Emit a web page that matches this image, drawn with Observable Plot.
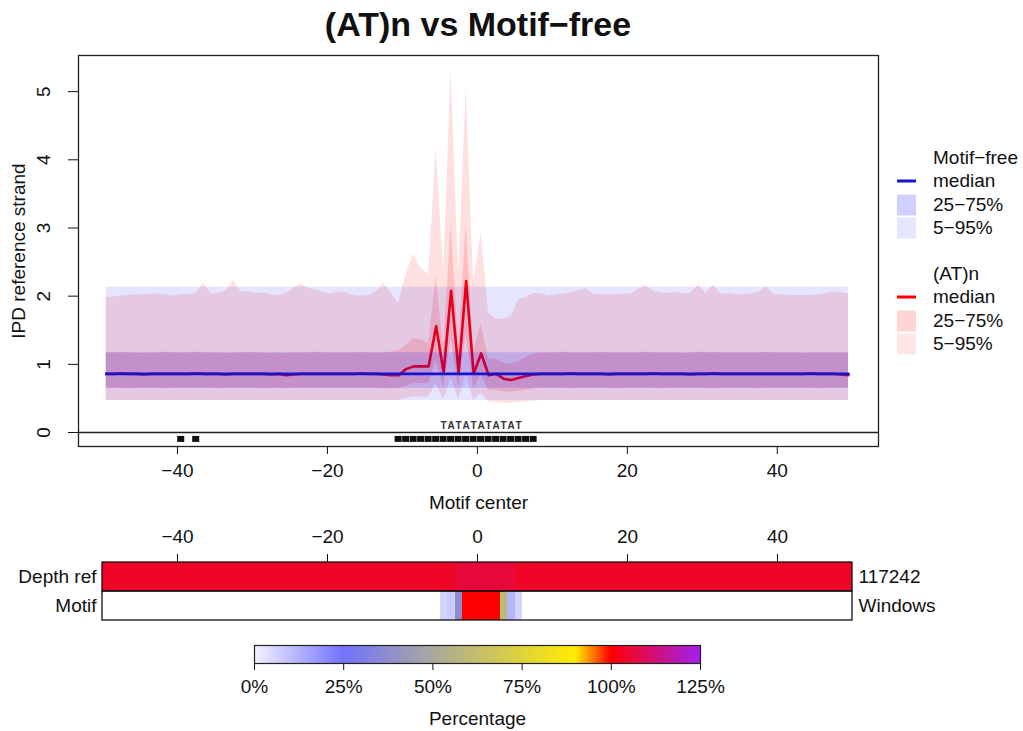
<!DOCTYPE html>
<html>
<head>
<meta charset="utf-8">
<script src="https://cdn.jsdelivr.net/npm/d3@7"></script>
<script src="https://cdn.jsdelivr.net/npm/@observablehq/plot@0.6"></script>
<style>
  html, body { margin: 0; padding: 0; background: #fff; }
  #page { position: relative; width: 1023px; height: 731px; background: #fff; overflow: hidden;
          font-family: "Liberation Sans", Arial, Helvetica, sans-serif; color: #111; }
  #page > svg { position: absolute; left: 0; }
  .title { position: absolute; left: 0; top: 5px; width: 956px; text-align: center;
           font-size: 34px; font-weight: bold; line-height: 38px; }
  .lg-text { position: absolute; left: 933px; font-size: 19px; line-height: 22px; transform: translateY(-50%); white-space: nowrap; }
  .lg-line { position: absolute; left: 897px; width: 19px; height: 3px; transform: translateY(-50%); }
  .lg-box { position: absolute; left: 897px; width: 19px; height: 21px; transform: translateY(-50%); }
</style>
</head>
<body>
<div id="page">
  <div class="title">(AT)n vs Motif−free</div>
</div>
<script>
// Window positions relative to the motif center (one value per base)
const positions = d3.range(-49.5, 50, 1);

// Motif-free windows: IPD quantiles per position
const freeMedian = [
  0.86,0.86,0.86,0.86,0.86,0.86,0.86,0.86,0.86,0.86, 0.86,0.86,0.86,0.86,0.86,0.86,0.86,0.86,0.86,0.86,
  0.86,0.86,0.86,0.86,0.86,0.86,0.86,0.86,0.86,0.86, 0.86,0.86,0.86,0.86,0.86,0.86,0.86,0.86,0.86,0.86,
  0.86,0.86,0.86,0.86,0.86,0.86,0.86,0.86,0.86,0.86, 0.86,0.86,0.86,0.86,0.86,0.86,0.86,0.86,0.86,0.86,
  0.86,0.86,0.86,0.86,0.86,0.86,0.86,0.86,0.86,0.86, 0.86,0.86,0.86,0.86,0.86,0.86,0.86,0.86,0.86,0.86,
  0.86,0.86,0.86,0.86,0.86,0.86,0.86,0.86,0.86,0.86, 0.86,0.86,0.86,0.86,0.86,0.86,0.86,0.86,0.86,0.86
];
const freeQ25 = [
  0.65,0.65,0.65,0.65,0.65,0.65,0.65,0.65,0.65,0.65, 0.65,0.65,0.65,0.65,0.65,0.65,0.65,0.65,0.65,0.65,
  0.65,0.65,0.65,0.65,0.65,0.65,0.65,0.65,0.65,0.65, 0.65,0.65,0.65,0.65,0.65,0.65,0.65,0.65,0.65,0.65,
  0.65,0.65,0.65,0.65,0.65,0.65,0.65,0.65,0.65,0.65, 0.65,0.65,0.65,0.65,0.65,0.65,0.65,0.65,0.65,0.65,
  0.65,0.65,0.65,0.65,0.65,0.65,0.65,0.65,0.65,0.65, 0.65,0.65,0.65,0.65,0.65,0.65,0.65,0.65,0.65,0.65,
  0.65,0.65,0.65,0.65,0.65,0.65,0.65,0.65,0.65,0.65, 0.65,0.65,0.65,0.65,0.65,0.65,0.65,0.65,0.65,0.65
];
const freeQ75 = [
  1.17,1.17,1.17,1.17,1.17,1.17,1.17,1.17,1.17,1.17, 1.17,1.17,1.17,1.17,1.17,1.17,1.17,1.17,1.17,1.17,
  1.17,1.17,1.17,1.17,1.17,1.17,1.17,1.17,1.17,1.17, 1.17,1.17,1.17,1.17,1.17,1.17,1.17,1.17,1.17,1.17,
  1.17,1.17,1.17,1.17,1.17,1.17,1.17,1.17,1.17,1.17, 1.17,1.17,1.17,1.17,1.17,1.17,1.17,1.17,1.17,1.17,
  1.17,1.17,1.17,1.17,1.17,1.17,1.17,1.17,1.17,1.17, 1.17,1.17,1.17,1.17,1.17,1.17,1.17,1.17,1.17,1.17,
  1.17,1.17,1.17,1.17,1.17,1.17,1.17,1.17,1.17,1.17, 1.17,1.17,1.17,1.17,1.17,1.17,1.17,1.17,1.17,1.17
];
const freeQ05 = [
  0.47,0.47,0.47,0.47,0.47,0.47,0.47,0.47,0.47,0.47, 0.47,0.47,0.47,0.47,0.47,0.47,0.47,0.47,0.47,0.47,
  0.47,0.47,0.47,0.47,0.47,0.47,0.47,0.47,0.47,0.47, 0.47,0.47,0.47,0.47,0.47,0.47,0.47,0.47,0.47,0.47,
  0.47,0.47,0.47,0.47,0.47,0.47,0.47,0.47,0.47,0.47, 0.47,0.47,0.47,0.47,0.47,0.47,0.47,0.47,0.47,0.47,
  0.47,0.47,0.47,0.47,0.47,0.47,0.47,0.47,0.47,0.47, 0.47,0.47,0.47,0.47,0.47,0.47,0.47,0.47,0.47,0.47,
  0.47,0.47,0.47,0.47,0.47,0.47,0.47,0.47,0.47,0.47, 0.47,0.47,0.47,0.47,0.47,0.47,0.47,0.47,0.47,0.47
];
const freeQ95 = [
  2.13,2.13,2.13,2.13,2.13,2.13,2.13,2.13,2.13,2.13, 2.13,2.13,2.13,2.13,2.13,2.13,2.13,2.13,2.13,2.13,
  2.13,2.13,2.13,2.13,2.13,2.13,2.13,2.13,2.13,2.13, 2.13,2.13,2.13,2.13,2.13,2.13,2.13,2.13,2.13,2.13,
  2.13,2.13,2.13,2.13,2.13,2.13,2.13,2.13,2.13,2.13, 2.13,2.13,2.13,2.13,2.13,2.13,2.13,2.13,2.13,2.13,
  2.13,2.13,2.13,2.13,2.13,2.13,2.13,2.13,2.13,2.13, 2.13,2.13,2.13,2.13,2.13,2.13,2.13,2.13,2.13,2.13,
  2.13,2.13,2.13,2.13,2.13,2.13,2.13,2.13,2.13,2.13, 2.13,2.13,2.13,2.13,2.13,2.13,2.13,2.13,2.13,2.13
];

// (AT)n windows: IPD quantiles per position
const atMedian = [
  0.86,0.86,0.87,0.86,0.86,0.85,0.86,0.86,0.86,0.86,
  0.86,0.86,0.87,0.86,0.86,0.86,0.85,0.86,0.86,0.86,
  0.86,0.86,0.85,0.86,0.84,0.85,0.86,0.86,0.86,0.86,
  0.86,0.86,0.86,0.86,0.87,0.86,0.86,0.85,0.84,0.84,
  0.93,0.97,0.97,0.97,1.56,0.88,2.08,0.88,2.22,0.86,
  1.16,0.84,0.86,0.79,0.77,0.80,0.83,0.85,0.86,0.86,
  0.86,0.86,0.87,0.86,0.86,0.86,0.86,0.85,0.86,0.86,
  0.86,0.86,0.86,0.87,0.86,0.86,0.86,0.86,0.85,0.86,
  0.86,0.87,0.86,0.86,0.86,0.86,0.86,0.86,0.86,0.86,
  0.86,0.86,0.86,0.86,0.87,0.86,0.86,0.86,0.85,0.84
];
const atQ25 = [
  0.65,0.65,0.65,0.64,0.65,0.65,0.65,0.65,0.64,0.65,
  0.65,0.65,0.65,0.65,0.65,0.64,0.65,0.65,0.65,0.65,
  0.65,0.64,0.65,0.65,0.64,0.65,0.65,0.65,0.65,0.65,
  0.65,0.65,0.65,0.65,0.65,0.65,0.65,0.64,0.64,0.64,
  0.68,0.72,0.72,0.72,1.05,0.66,1.35,0.66,1.45,0.64,
  0.85,0.62,0.62,0.60,0.59,0.60,0.62,0.64,0.65,0.65,
  0.65,0.65,0.64,0.65,0.65,0.65,0.65,0.65,0.64,0.65,
  0.65,0.65,0.65,0.65,0.64,0.65,0.65,0.65,0.65,0.65,
  0.65,0.64,0.65,0.65,0.65,0.65,0.65,0.64,0.65,0.65,
  0.65,0.65,0.65,0.65,0.65,0.64,0.65,0.65,0.65,0.65
];
const atQ75 = [
  1.17,1.17,1.18,1.17,1.17,1.16,1.17,1.17,1.18,1.17,
  1.17,1.17,1.18,1.17,1.17,1.17,1.16,1.17,1.17,1.18,
  1.17,1.17,1.16,1.17,1.16,1.17,1.17,1.17,1.18,1.17,
  1.17,1.17,1.17,1.17,1.18,1.17,1.17,1.17,1.18,1.20,
  1.28,1.38,1.36,1.30,2.30,1.22,3.06,1.22,3.06,1.18,
  1.60,1.08,1.08,1.02,1.00,1.04,1.10,1.15,1.17,1.17,
  1.17,1.18,1.17,1.17,1.17,1.17,1.18,1.17,1.17,1.17,
  1.17,1.17,1.18,1.17,1.17,1.17,1.17,1.16,1.17,1.18,
  1.17,1.18,1.17,1.17,1.17,1.17,1.17,1.17,1.18,1.17,
  1.17,1.17,1.17,1.16,1.17,1.17,1.17,1.17,1.17,1.17
];
const atQ05 = [
  0.47,0.47,0.47,0.47,0.47,0.47,0.47,0.47,0.47,0.47,
  0.47,0.47,0.47,0.47,0.47,0.47,0.47,0.47,0.47,0.47,
  0.47,0.47,0.47,0.47,0.47,0.47,0.47,0.47,0.47,0.47,
  0.47,0.47,0.47,0.47,0.47,0.47,0.47,0.47,0.47,0.47,
  0.50,0.52,0.52,0.52,0.72,0.48,0.80,0.48,0.85,0.47,
  0.58,0.45,0.44,0.43,0.43,0.44,0.45,0.46,0.47,0.47,
  0.47,0.47,0.47,0.47,0.47,0.47,0.47,0.47,0.47,0.47,
  0.47,0.47,0.47,0.47,0.47,0.47,0.47,0.47,0.47,0.47,
  0.47,0.47,0.47,0.47,0.47,0.47,0.47,0.47,0.47,0.47,
  0.47,0.47,0.47,0.47,0.47,0.47,0.47,0.47,0.47,0.47
];
const atQ95 = [
  1.98,1.99,2.00,2.01,2.02,2.02,2.03,2.03,2.02,2.00,
  2.02,2.02,2.05,2.19,2.03,2.04,2.08,2.23,2.06,2.07,
  2.04,2.05,2.02,2.01,2.04,2.12,2.18,2.12,2.09,2.05,
  2.03,2.06,2.05,2.01,2.00,2.01,2.06,2.19,2.05,1.89,
  2.33,2.62,2.40,2.32,4.16,2.35,5.31,2.30,5.06,2.20,
  2.94,1.75,1.67,1.66,1.70,1.95,1.98,2.04,2.04,2.00,
  2.02,2.03,2.05,2.08,2.11,2.03,2.02,2.02,2.02,2.03,
  2.03,2.10,2.16,2.07,2.05,2.04,2.06,2.03,2.05,2.17,
  2.04,2.17,2.03,2.04,2.02,2.02,2.03,2.06,2.14,2.03,
  2.02,2.01,2.01,2.01,2.01,2.02,2.04,2.06,2.05,2.03
];

// Positions marked along the bottom strip and the motif sequence above it
const markedPositions = [-39.5, -37.5, -10.5, -9.5, -8.5, -7.5, -6.5, -5.5, -4.5, -3.5, -2.5, -1.5,
                         -0.5, 0.5, 1.5, 2.5, 3.5, 4.5, 5.5, 6.5, 7.5];
const motifLetters = ["T","A","T","A","T","A","T","A","T","A","T"];
const motifLetterPos = [-4.5, -3.5, -2.5, -1.5, -0.5, 0.5, 1.5, 2.5, 3.5, 4.5, 5.5];

// Heatmap rows (percent per position)
const heatRows = ["Depth ref", "Motif"];
const heatRowNotes = ["117242", "Windows"];
const depthPct = [
  104,104,104,104,104,104,104,104,104,104, 104,104,104,104,104,104,104,104,104,104,
  104,104,104,104,104,104,104,104,104,104, 104,104,104,104,104,104,104,104,104,104,
  104,104,104,104,104,104,104,106,106,106, 106,106,106,106,106,104,104,104,104,104,
  104,104,104,104,104,104,104,104,104,104, 104,104,104,104,104,104,104,104,104,104,
  104,104,104,104,104,104,104,104,104,104, 104,104,104,104,104,104,104,104,104,104
];
const motifPct = [
  0,0,0,0,0,0,0,0,0,0, 0,0,0,0,0,0,0,0,0,0,
  0,0,0,0,0,0,0,0,0,0, 0,0,0,0,0,0,0,0,0,0,
  0,0,0,0,0,6,8,38,100,100, 100,100,100,60,12,6,0,0,0,0,
  0,0,0,0,0,0,0,0,0,0, 0,0,0,0,0,0,0,0,0,0,
  0,0,0,0,0,0,0,0,0,0, 0,0,0,0,0,0,0,0,0,0
];

// Colour ramp and tick labels
const rampStops = [0, 25, 50, 90, 100, 125];
const rampColors = ["#f3f3ff", "#7272ff", "#aaa89e", "#ffec00", "#ff0000", "#a020f0"];
const rampTicks = [0, 25, 50, 75, 100, 125];
const xTicks = [-40, -20, 0, 20, 40];
const yTicks = [0, 1, 2, 3, 4, 5];

// Colours
const FREE = "#0000ff", AT = "#ff0000";
const FREE_LINE = "#1414d2", AT_LINE = "#ff0000";
const FREE_OUT = 0.1, FREE_IN = 0.15, AT_OUT = 0.12, AT_IN = 0.15;

const fmtSigned = d => d < 0 ? "\u2212" + Math.abs(d) : String(d);
const font = "'Liberation Sans', Arial, Helvetica, sans-serif";

const rows = positions.map((x, i) => ({
  x,
  freeMedian: freeMedian[i], freeQ25: freeQ25[i], freeQ75: freeQ75[i], freeQ05: freeQ05[i], freeQ95: freeQ95[i],
  atMedian: atMedian[i], atQ25: atQ25[i], atQ75: atQ75[i], atQ05: atQ05[i], atQ95: atQ95[i]
}));

const page = document.getElementById("page");

// Main IPD profile
const main = Plot.plot({
  width: 1023, height: 515,
  marginLeft: 78, marginRight: 145, marginTop: 55, marginBottom: 69,
  x: {domain: [-53.2, 53.5], label: null},
  y: {domain: [-0.205, 5.53], label: null},
  style: {fontFamily: font, fontSize: "19px", color: "#111", background: "transparent", top: "0px"},
  marks: [
    Plot.areaY(rows, {x: "x", y1: "atQ05", y2: "atQ95", fill: AT, fillOpacity: AT_OUT}),
    Plot.areaY(rows, {x: "x", y1: "atQ25", y2: "atQ75", fill: AT, fillOpacity: AT_IN}),
    Plot.lineY(rows, {x: "x", y: "atMedian", stroke: AT_LINE, strokeWidth: 2.6}),
    Plot.areaY(rows, {x: "x", y1: "freeQ05", y2: "freeQ95", fill: FREE, fillOpacity: FREE_OUT}),
    Plot.areaY(rows, {x: "x", y1: "freeQ25", y2: "freeQ75", fill: FREE, fillOpacity: FREE_IN}),
    Plot.lineY(rows, {x: "x", y: "freeMedian", stroke: FREE_LINE, strokeWidth: 2.6}),
    Plot.ruleY([0], {stroke: "#222", strokeWidth: 1.3}),
    Plot.rect(markedPositions, {x1: d => d - 0.47, x2: d => d + 0.47, y1: -0.145, y2: -0.057, fill: "#111"}),
    Plot.text(motifLetters, {x: (d, i) => motifLetterPos[i], y: 0.1, text: d => d,
      fontSize: 10, fontWeight: "bold", fill: "#333"}),
    Plot.frame({stroke: "#222", strokeWidth: 1.3}),
    Plot.axisX({ticks: xTicks, tickSize: 8, tickPadding: 9, tickFormat: fmtSigned, label: null, fontSize: 19}),
    Plot.axisY({ticks: yTicks, tickSize: 10, tickFormat: () => "", label: null}),
    Plot.text(yTicks, {y: d => d, text: d => String(d), frameAnchor: "left", dx: -35,
      rotate: -90, textAnchor: "middle", lineAnchor: "middle", fontSize: 19}),
    Plot.text(["IPD reference strand"], {frameAnchor: "left", dx: -60, rotate: -90,
      textAnchor: "middle", lineAnchor: "middle", fontSize: 19}),
    Plot.text(["Motif center"], {frameAnchor: "bottom", dy: 56, lineAnchor: "middle", fontSize: 19})
  ]
});
page.appendChild(main);

// Shared colour scale for the heatmap and its ramp
const colorScale = {type: "linear", domain: rampStops, range: rampColors, interpolate: "rgb"};

const heatCells = [];
positions.forEach((x, i) => {
  heatCells.push({x, row: heatRows[0], pct: depthPct[i]});
  if (motifPct[i] > 0) heatCells.push({x, row: heatRows[1], pct: motifPct[i]});
});

const heat = Plot.plot({
  width: 1023, height: 115,
  marginLeft: 102, marginRight: 171, marginTop: 46, marginBottom: 10,
  x: {domain: [-50, 50], label: null},
  y: {domain: heatRows, padding: 0, label: null},
  color: colorScale,
  style: {fontFamily: font, fontSize: "19px", color: "#111", background: "transparent", top: "515px"},
  marks: [
    Plot.barX(heatCells, {x1: d => d.x - 0.5, x2: d => d.x + 0.5, y: "row", fill: "pct",
      inset: 0, shapeRendering: "crispEdges"}),
    Plot.barX(heatRows, {x1: -50, x2: 50, y: d => d, fill: "none", stroke: "#111", strokeWidth: 1.3, inset: 0}),
    Plot.axisX({anchor: "top", ticks: xTicks, tickSize: 8, tickPadding: 11, tickFormat: fmtSigned, label: null, fontSize: 19}),
    Plot.axisY({anchor: "left", tickSize: 0, tickPadding: 6, label: null, fontSize: 19}),
    Plot.axisY({anchor: "right", tickSize: 0, tickPadding: 6, label: null, fontSize: 19,
      tickFormat: d => heatRowNotes[heatRows.indexOf(d)]})
  ]
});
page.appendChild(heat);

// Colour ramp
const rampSteps = d3.range(0, 125, 0.5);
const ramp = Plot.plot({
  width: 1023, height: 101,
  marginLeft: 254, marginRight: 323, marginTop: 15, marginBottom: 68,
  x: {domain: [0, 125], label: null},
  y: {domain: [0, 1], axis: null},
  color: colorScale,
  style: {fontFamily: font, fontSize: "19px", color: "#111", background: "transparent", top: "630px"},
  marks: [
    Plot.rect(rampSteps, {x1: d => d, x2: d => d + 0.5, y1: 0, y2: 1, fill: d => d + 0.25,
      shapeRendering: "crispEdges"}),
    Plot.frame({stroke: "#222", strokeWidth: 1.2}),
    Plot.axisX({ticks: rampTicks, tickSize: 7, tickPadding: 9, tickFormat: d => d + "%", label: null, fontSize: 19}),
    Plot.text(["Percentage"], {frameAnchor: "bottom", dy: 55, lineAnchor: "middle", fontSize: 19})
  ]
});
page.appendChild(ramp);

// Legend
const legendItems = [
  {y: 158, text: "Motif\u2212free"},
  {y: 181, text: "median", line: FREE_LINE},
  {y: 205, text: "25\u221275%", box: "rgba(0,0,255,0.18)"},
  {y: 228, text: "5\u221295%", box: "rgba(0,0,255,0.1)"},
  {y: 274, text: "(AT)n"},
  {y: 297, text: "median", line: AT_LINE},
  {y: 321, text: "25\u221275%", box: "rgba(255,0,0,0.17)"},
  {y: 344, text: "5\u221295%", box: "rgba(255,0,0,0.1)"}
];
for (const it of legendItems) {
  const t = document.createElement("div");
  t.className = "lg-text";
  t.style.top = it.y + "px";
  t.textContent = it.text;
  page.appendChild(t);
  if (it.line) {
    const l = document.createElement("div");
    l.className = "lg-line";
    l.style.top = it.y + "px";
    l.style.background = it.line;
    page.appendChild(l);
  }
  if (it.box) {
    const b = document.createElement("div");
    b.className = "lg-box";
    b.style.top = it.y + "px";
    b.style.background = it.box;
    page.appendChild(b);
  }
}
</script>
</body>
</html>
